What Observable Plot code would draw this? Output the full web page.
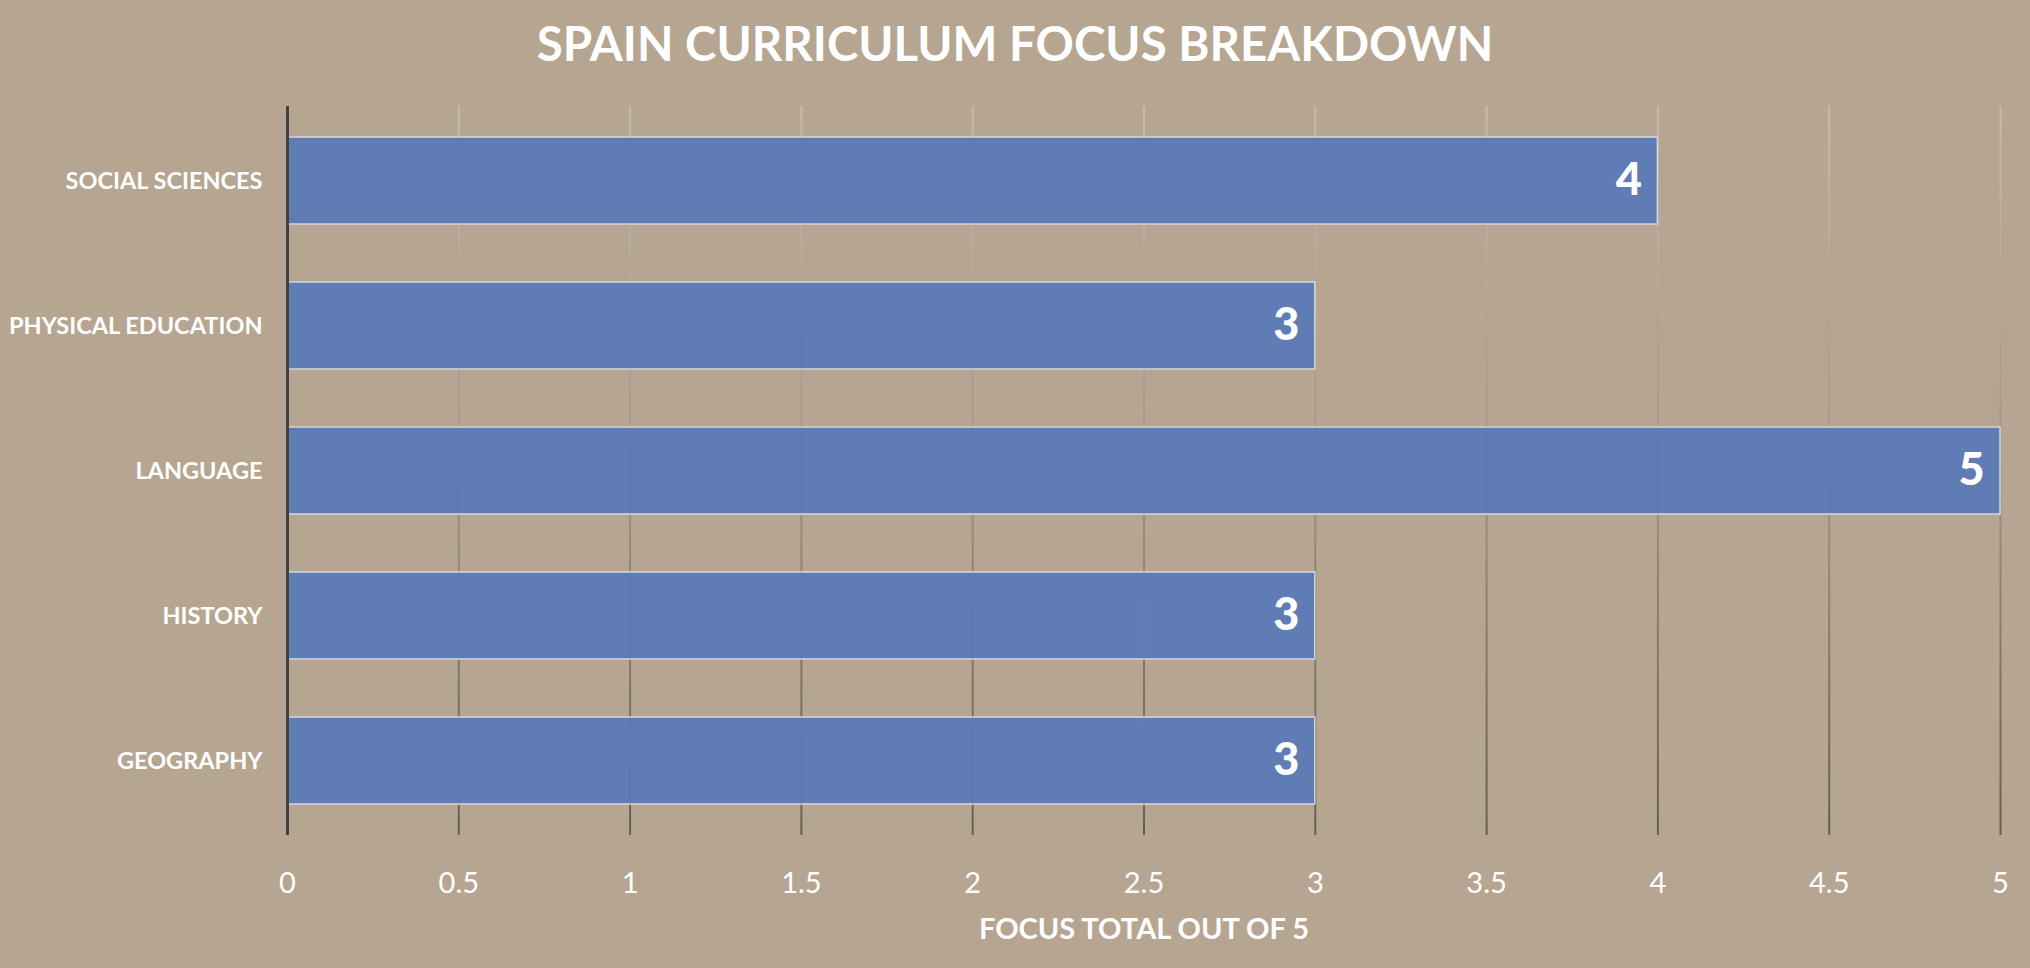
<!DOCTYPE html>
<html>
<head>
<meta charset="utf-8">
<script src="https://cdn.jsdelivr.net/npm/d3@7"></script>
<script src="https://cdn.jsdelivr.net/npm/@observablehq/plot@0.6"></script>
<style>
  html, body { margin: 0; padding: 0; background: #b6a691; }
  #title { height: 86px; line-height: 86px; text-align: center; color: #ffffff;
           font-family: Lato, "Open Sans", sans-serif; font-weight: 700; font-size: 47.5px; }
  #chart svg { display: block; }
</style>
</head>
<body>
<div id="title"></div>
<div id="chart"></div>
<script>
const titleText = "SPAIN CURRICULUM FOCUS BREAKDOWN";
const xTitle = "FOCUS TOTAL OUT OF 5";
const subjects = ["SOCIAL SCIENCES", "PHYSICAL EDUCATION", "LANGUAGE", "HISTORY", "GEOGRAPHY"];
const focusValues = [4, 3, 5, 3, 3];
const xTicks = [0, 0.5, 1, 1.5, 2, 2.5, 3, 3.5, 4, 4.5, 5];

document.getElementById("title").textContent = titleText;

const data = subjects.map((s, i) => ({subject: s, value: focusValues[i]}));

const W = 2030, H = 882, MT = 20, MB = 133, ML = 287, MR = 30;

const plot = Plot.plot({
  width: W,
  height: H,
  marginTop: MT,
  marginBottom: MB,
  marginLeft: ML,
  marginRight: MR,
  style: {background: "transparent", color: "#ffffff", fontFamily: "Lato, 'Open Sans', sans-serif"},
  x: {domain: [0, 5]},
  y: {domain: subjects, paddingInner: 0.4, paddingOuter: 0.2},
  marks: [
    Plot.ruleX(xTicks.slice(1), {stroke: "url(#gridGrad)", strokeWidth: 2}),
    Plot.barX(data, {x: "value", y: "subject", fill: "#5b79b7", fillOpacity: 0.95, stroke: "#d6d6dc", strokeWidth: 1.5}),
    Plot.ruleX([0], {stroke: "#404040", strokeWidth: 3}),
    Plot.text(data, {x: "value", y: "subject", text: d => String(d.value), textAnchor: "end", dx: -16,
                     fill: "#ffffff", fontSize: 45, fontWeight: "900"}),
    Plot.axisX({ticks: xTicks, tickFormat: d => String(d), tickSize: 0, tickPadding: 37, fontSize: 29, label: null, fill: "#ffffff"}),
    Plot.axisY({tickSize: 0, tickPadding: 25, fontSize: 23.5, fontWeight: "bold", label: null, fill: "#ffffff"}),
    Plot.text([xTitle], {frameAnchor: "bottom", dy: 103, fontSize: 29, fontWeight: "bold", fill: "#ffffff"})
  ]
});

// gradient for gridlines (light at top, dark at bottom)
const ns = "http://www.w3.org/2000/svg";
const defs = document.createElementNS(ns, "defs");
const grad = document.createElementNS(ns, "linearGradient");
grad.setAttribute("id", "gridGrad");
grad.setAttribute("gradientUnits", "userSpaceOnUse");
grad.setAttribute("x1", "0"); grad.setAttribute("x2", "0");
grad.setAttribute("y1", String(MT)); grad.setAttribute("y2", String(H - MB));
[["0", "#c6bbad"], ["0.5", "#a09482"], ["1", "#675d51"]].forEach(([o, c]) => {
  const st = document.createElementNS(ns, "stop");
  st.setAttribute("offset", o); st.setAttribute("stop-color", c);
  grad.appendChild(st);
});
defs.appendChild(grad);
plot.insertBefore(defs, plot.firstChild);

document.getElementById("chart").appendChild(plot);
</script>
</body>
</html>
